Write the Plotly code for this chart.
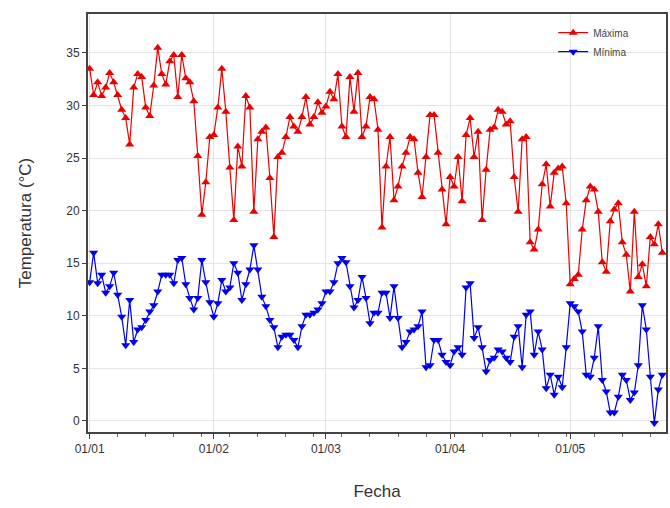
import pandas as pd
import plotly.graph_objects as go

start_date = "2023-01-01"

maxima = [
    33.5, 31.0, 32.2, 30.9, 31.7, 33.1, 32.2, 31.0, 29.6, 28.8,
    26.3, 31.7, 33.0, 32.7, 29.8, 29.0, 31.9, 35.5, 33.0, 32.0,
    34.2, 34.8, 30.8, 34.8, 32.6, 32.2, 30.4, 25.2, 19.6, 22.7,
    27.0, 27.2, 29.8, 33.5, 29.4, 24.1, 19.1, 26.1, 24.2, 30.9,
    29.8, 19.9, 26.8, 27.5, 27.9, 23.1, 17.5, 25.1, 25.5, 27.0,
    28.9, 28.0, 27.5, 28.9, 30.8, 28.2, 28.9, 30.3, 29.3, 29.9,
    31.3, 30.6, 33.0, 28.0, 27.0, 32.7, 29.4, 33.1, 27.0, 28.0,
    30.8, 30.6, 27.7, 18.4, 24.2, 27.0, 21.0, 22.3, 24.2, 25.5,
    27.0, 26.8, 23.6, 21.3, 25.1, 29.1, 29.1, 25.5, 22.0, 18.7,
    23.2, 22.3, 25.1, 20.9, 27.2, 28.8, 25.1, 27.5, 19.1, 23.9,
    27.7, 27.9, 29.6, 29.4, 28.2, 28.5, 23.2, 19.9, 26.8, 27.0,
    17.0, 16.3, 18.2, 22.5, 24.4, 20.4, 23.6, 24.0, 24.2, 20.7,
    13.0, 13.5, 13.9, 18.2, 21.0, 22.3, 22.0, 19.9, 15.1, 14.2,
    19.0, 20.1, 20.7, 17.0, 15.8, 12.3, 19.9, 13.7, 14.9, 12.8,
    17.5, 16.8, 18.7, 16.0,
]

minima = [
    13.2, 16.0, 13.1, 13.9, 12.2, 12.8, 14.1, 12.0, 9.9, 7.2,
    11.5, 7.5, 8.7, 8.9, 9.6, 10.4, 11.0, 12.3, 13.9, 13.9,
    13.9, 13.1, 15.3, 15.5, 13.0, 11.7, 10.6, 11.7, 15.3, 13.2,
    11.3, 9.9, 11.2, 13.4, 12.3, 12.7, 15.0, 14.1, 11.5, 13.0,
    14.4, 16.7, 14.4, 11.8, 10.9, 9.6, 8.9, 7.0, 8.0, 8.2,
    8.2, 7.7, 7.0, 9.0, 10.1, 10.1, 10.3, 10.6, 11.2, 12.3,
    12.3, 13.2, 15.0, 15.5, 15.1, 12.8, 10.8, 11.5, 13.7, 11.7,
    9.3, 10.3, 10.3, 12.2, 12.2, 9.8, 12.8, 9.8, 7.0, 7.5,
    8.5, 8.7, 9.0, 10.4, 5.1, 5.3, 7.7, 7.7, 6.3, 5.6,
    5.3, 6.6, 7.0, 6.3, 12.7, 13.1, 7.9, 8.9, 7.0, 4.7,
    5.8, 6.0, 6.8, 6.6, 6.0, 5.6, 8.0, 9.0, 5.1, 10.1,
    10.4, 6.3, 8.5, 6.8, 3.1, 4.4, 2.5, 4.2, 3.2, 7.0,
    11.2, 10.9, 10.4, 8.5, 4.4, 4.2, 6.0, 9.0, 3.9, 2.8,
    0.8, 0.8, 2.3, 4.4, 3.9, 2.0, 2.7, 5.3, 11.0, 8.7,
    4.2, -0.2, 3.0, 4.4,
]

month_ticks = ["2023-01-01", "2023-02-01", "2023-03-01", "2023-04-01", "2023-05-01"]
y_ticks = [0, 5, 10, 15, 20, 25, 30, 35]

dates_max = pd.date_range(start_date, periods=len(maxima), freq="D")
dates_min = pd.date_range(start_date, periods=len(minima), freq="D")

RED = "rgb(235,0,0)"
BLUE = "rgb(0,0,235)"

fig = go.Figure()
fig.add_trace(go.Scatter(
    x=dates_max, y=maxima, name="Máxima", mode="lines+markers",
    line=dict(color=RED, width=1.2),
    marker=dict(symbol="triangle-up", size=8, color=RED),
))
fig.add_trace(go.Scatter(
    x=dates_min, y=minima, name="Mínima", mode="lines+markers",
    line=dict(color=BLUE, width=1.2),
    marker=dict(symbol="triangle-down", size=8, color=BLUE),
))

fig.update_layout(
    width=670, height=508,
    margin=dict(l=88, r=2, t=14, b=76),
    paper_bgcolor="white", plot_bgcolor="white",
    font=dict(family="Liberation Sans, Arial, sans-serif", color="#333"),
    showlegend=True,
    legend=dict(
        x=0.945, y=0.99, xanchor="right", yanchor="top",
        bgcolor="rgba(255,255,255,0)", borderwidth=0,
        font=dict(size=10, color="#444"),
        itemwidth=30, tracegroupgap=0,
    ),
)

fig.update_xaxes(
    range=["2022-12-31 14:00", "2023-05-24 22:00"],
    tickvals=month_ticks, tickformat="%d/%m",
    tickfont=dict(size=12, color="#333"),
    ticks="outside", ticklen=5, tickcolor="#444",
    minor=dict(ticks="outside", ticklen=3, tickcolor="#666",
               dtick=7 * 86400000, tick0="2023-01-01", showgrid=False),
    showgrid=True, gridcolor="#e4e4e4", gridwidth=1,
    showline=True, mirror=True, linecolor="#444", linewidth=2,
    zeroline=False,
    title=dict(text="Fecha", font=dict(size=17, color="#333"), standoff=30),
)
fig.update_yaxes(
    range=[-1.05, 38.7],
    tickvals=y_ticks,
    tickfont=dict(size=12, color="#333"),
    ticks="outside", ticklen=4, tickcolor="#444",
    showgrid=True, gridcolor="#e4e4e4", gridwidth=1,
    showline=True, mirror=True, linecolor="#444", linewidth=2,
    zeroline=False,
    title=dict(text="Temperatura (°C)", font=dict(size=17, color="#333"), standoff=30),
)

fig.write_html("out.html")
